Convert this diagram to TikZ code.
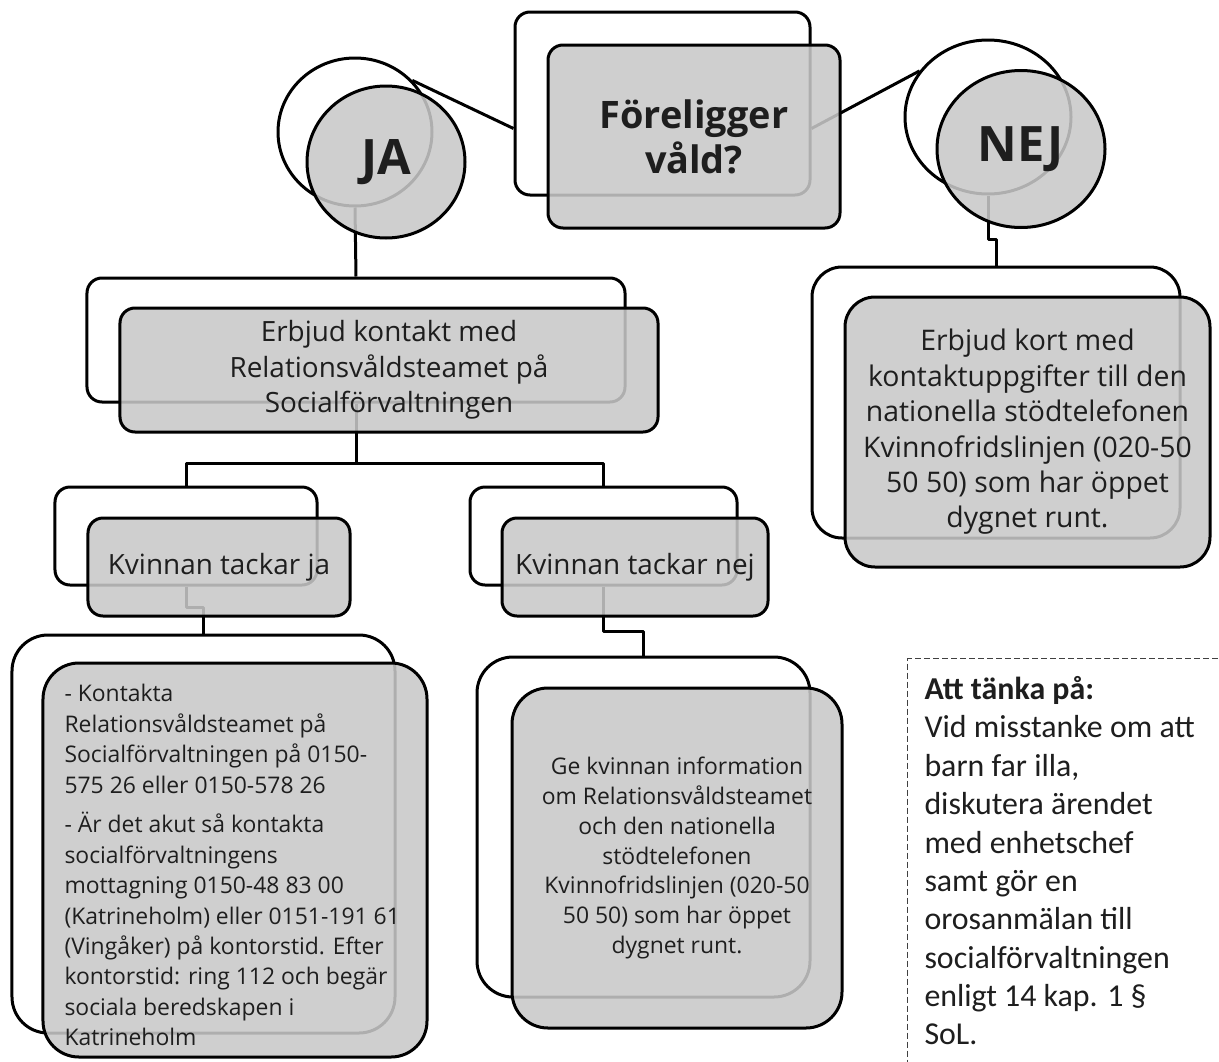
\documentclass[tikz,border=0pt]{standalone}
\usepackage{fontspec}
\setmainfont{Open Sans}
\newfontfamily\calib{Carlito}
\usetikzlibrary{shapes.geometric,calc}
\definecolor{cfill}{RGB}{201,201,201}
\definecolor{ctext}{RGB}{30,30,30}
\begin{document}
\begin{tikzpicture}[x=1bp,y=-1bp,line width=3bp,line join=round,
  backrect/.style={draw=black,fill=white,rounded corners=#1,inner sep=0pt},
  backrect/.default=15bp,
  frontrect/.style={draw=black,fill=cfill,fill opacity=0.87,text opacity=1,draw opacity=1,
     rounded corners=#1,inner sep=0pt,text=ctext,align=center},
  frontrect/.default=15bp,
  backell/.style={draw=black,fill=white,ellipse,inner sep=0pt},
  frontell/.style={draw=black,fill=cfill,fill opacity=0.87,text opacity=1,draw opacity=1,
     ellipse,inner sep=0pt,text=ctext},
  conn/.style={draw=black,line width=3bp},
  boxfont/.style={font=\fontsize{28}{35.5}\selectfont},
  nejfont/.style={font=\fontsize{28.5}{35.5}\selectfont},
  smallfont/.style={font=\fontsize{23}{30.5}\selectfont},
  midfont/.style={font=\fontsize{23}{30}\selectfont},
  bigbold/.style={font=\fontsize{38}{45}\selectfont\bfseries},
  circfont/.style={font=\fontsize{49}{50}\selectfont\bfseries}]
\useasboundingbox (0,0) rectangle (1219,1062);
\fill[white] (0,0) rectangle (1219,1062);

% back shapes
\node[backrect,minimum width=295bp,minimum height=183bp] (fbb) at (662.5,103.5) {};
\node[backell,minimum width=154bp,minimum height=148bp] (jab) at (355,132) {};
\node[backell,minimum width=166bp,minimum height=154bp] (nejb) at (988,117) {};
\node[backrect,minimum width=538bp,minimum height=124bp] (erbb) at (356,340) {};
\node[backrect,minimum width=262bp,minimum height=98bp] (kjb) at (186,536) {};
\node[backrect,minimum width=267bp,minimum height=98bp] (knb) at (603.5,536) {};
\node[backrect=30bp,minimum width=368bp,minimum height=271bp] (nbb) at (996,402.5) {};
\node[backrect=36bp,minimum width=383bp,minimum height=398bp] (blb) at (203.5,834) {};
\node[backrect=36bp,minimum width=333bp,minimum height=340bp] (bmb) at (643.5,827) {};

% connectors
\draw[conn] (jab.42) -- ($(fbb.west)+(0,25)$);
\draw[conn] ($(fbb.east)+(0,25)$) -- (nejb.146);
\draw[conn] (jab.south) -- (erbb.north);
\draw[conn] (nejb.south) -- ++(0,44) -| (nbb.north);
\draw[conn] (erbb.south) -- ++(0,60) -| (kjb.north);
\draw[conn] (erbb.south) -- ++(0,60) -| (knb.north);
\draw[conn] (kjb.south) -- ++(0,21) -| (blb.north);
\draw[conn] (knb.south) -- ++(0,45) -| (bmb.north);

% front shapes
\node[frontrect,bigbold,minimum width=292bp,minimum height=183bp] (fbf) at (694,136.5) {Föreligger\\våld?};
\node[frontell,circfont,minimum width=158bp,minimum height=152bp] (jaf) at (386,162) {JA};
\node[frontell,circfont,minimum width=168bp,minimum height=157bp] (nejf) at (1021,149) {NEJ};
\node[frontrect,boxfont,minimum width=538bp,minimum height=124bp] (erbf) at (389,370)
  {Erbjud kontakt med\\Relationsvåldsteamet på\\Socialförvaltningen};
\node[frontrect,boxfont,minimum width=262bp,minimum height=98bp] (kjf) at (219,567) {Kvinnan tackar ja};
\node[frontrect,boxfont,minimum width=266bp,minimum height=98bp] (knf) at (635,567) {Kvinnan tackar nej};
\node[frontrect=30bp,nejfont,minimum width=365bp,minimum height=270bp] (nbf) at (1027.5,432)
  {Erbjud kort med\\kontaktuppgifter till den\\nationella stödtelefonen\\Kvinnofridslinjen (020-50\\50 50) som har öppet\\dygnet runt.};
\node[frontrect=36bp,minimum width=384bp,minimum height=394bp] (blf) at (235,860) {};
\node[frontrect=36bp,midfont,minimum width=330bp,minimum height=340bp] (bmf) at (677,858)
  {Ge kvinnan information\\om Relationsvåldsteamet\\och den nationella\\stödtelefonen\\Kvinnofridslinjen (020-50\\50 50) som har öppet\\dygnet runt.};
\node[smallfont,text=ctext,align=left,anchor=north west,inner sep=0pt] (bltxt) at (63,683)
  {- Kontakta\\Relationsvåldsteamet på\\Socialförvaltningen på 0150-\\575 26 eller 0150-578 26\\[9.5bp]
   - Är det akut så kontakta\\socialförvaltningens\\mottagning 0150-48 83 00\\(Katrineholm) eller 0151-191 61\\
   (Vingåker) på kontorstid. Efter\\kontorstid: ring 112 och begär\\sociala beredskapen i\\Katrineholm};

% note box
\node[draw=black!75,line width=1.3bp,dash pattern=on 6bp off 3bp,anchor=north west,
  minimum width=400bp,minimum height=500bp,inner sep=0pt] (attbox) at (907,658) {};
\node[font=\calib\fontsize{32}{38.5}\selectfont,text=ctext,align=left,anchor=north west,inner sep=0pt] (atttxt) at (923,675)
  {\textbf{Att tänka på:}\\Vid misstanke om att\\barn far illa,\\diskutera ärendet\\med enhetschef\\samt gör en\\orosanmälan till\\socialförvaltningen\\enligt 14 kap. 1 §\\SoL.};
\end{tikzpicture}
\end{document}
